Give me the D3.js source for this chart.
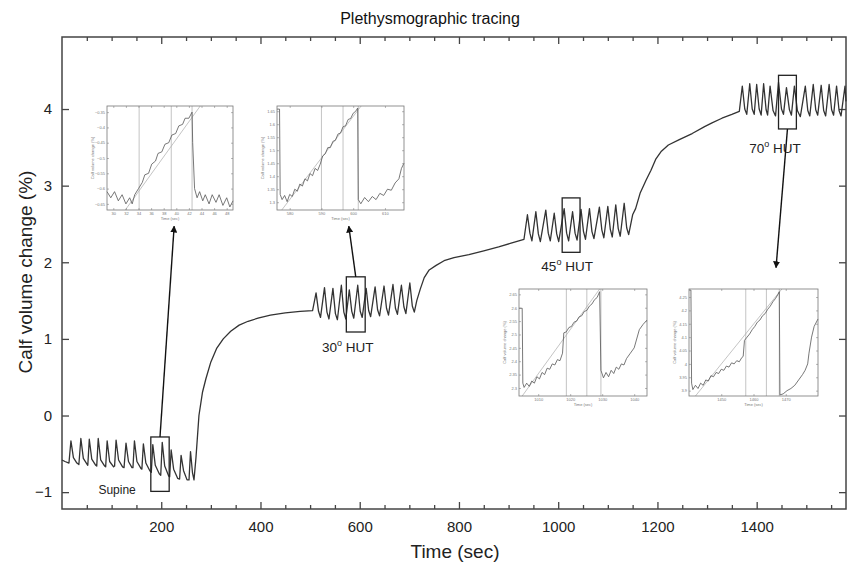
<!DOCTYPE html>
<html>
<head>
<meta charset="utf-8">
<script src="https://cdn.jsdelivr.net/npm/d3@7"></script>
<style>
  body { margin: 0; background: #fff; }
  text { font-family: "Liberation Sans", Arial, sans-serif; }
</style>
</head>
<body>
<div id="chart"></div>
<script>
// ---- main tracing (time in sec, calf volume change in %)
var supineTime  = [0,6,14,18,23,30,34,38,43,50,52,55,60,68,70,73,78,86,88,91,96,104,106,109,114,122,125,129,134,141,143,146,151,159,161,164,169,177,180,183,188,196,199,202,207,215,217,220,225,233,237,240,245,252,256,259,263,266];
var supineValue = [-0.58,-0.6,-0.62,-0.33,-0.55,-0.62,-0.64,-0.30,-0.56,-0.63,-0.65,-0.31,-0.57,-0.65,-0.66,-0.30,-0.58,-0.66,-0.67,-0.33,-0.6,-0.67,-0.66,-0.32,-0.58,-0.67,-0.68,-0.36,-0.6,-0.68,-0.68,-0.33,-0.6,-0.69,-0.7,-0.37,-0.62,-0.72,-0.74,-0.38,-0.65,-0.76,-0.78,-0.35,-0.66,-0.79,-0.8,-0.45,-0.7,-0.82,-0.83,-0.52,-0.72,-0.84,-0.84,-0.47,-0.75,-0.84];
var rise1Time   = [270,276,283,290,300,312,325,340,357,375,395,420,450,480,505];
var rise1Value  = [-0.55,0.0,0.3,0.48,0.7,0.88,1.0,1.1,1.18,1.23,1.27,1.31,1.34,1.36,1.37];
var tilt30Time  = [512,517,521,529,534,538,546,551,555,563,568,572,579,584,588,596,601,605,613,618,622,631,636,640,649,654,658,667,672,676,684,689,693,701,706,710,715];
var tilt30Value = [1.6,1.36,1.28,1.67,1.35,1.26,1.66,1.33,1.25,1.7,1.35,1.26,1.64,1.36,1.27,1.7,1.36,1.28,1.66,1.37,1.29,1.68,1.38,1.3,1.69,1.4,1.31,1.71,1.4,1.32,1.7,1.42,1.33,1.73,1.43,1.35,1.5];
var rise2Time   = [722,730,740,754,770,790,820,850,880,905,931];
var rise2Value  = [1.65,1.8,1.9,1.96,2.02,2.06,2.1,2.15,2.2,2.25,2.3];
var tilt45Time  = [938,943,947,955,960,964,975,980,984,992,997,1001,1012,1017,1021,1029,1034,1038,1046,1051,1055,1063,1068,1072,1083,1088,1092,1100,1105,1109,1116,1121,1125,1133,1138,1142,1150];
var tilt45Value = [2.62,2.38,2.28,2.66,2.37,2.27,2.68,2.38,2.28,2.64,2.37,2.27,2.7,2.38,2.28,2.66,2.38,2.29,2.69,2.4,2.3,2.7,2.4,2.31,2.72,2.42,2.32,2.73,2.43,2.33,2.75,2.44,2.34,2.77,2.45,2.36,2.62];
var rise3Time   = [1156,1165,1177,1187,1197,1208,1222,1244,1270,1295,1310,1330,1350,1365];
var rise3Value  = [2.7,2.9,3.07,3.2,3.35,3.45,3.53,3.6,3.68,3.77,3.82,3.88,3.93,3.97];
var tilt70Time  = [1371,1376,1380,1386,1391,1395,1400,1405,1409,1414,1419,1422,1427,1433,1438,1444,1450,1454,1460,1466,1470,1476,1482,1488,1498,1503,1507,1514,1519,1523,1530,1535,1539,1546,1551,1555,1561,1566,1570,1578,1580];
var tilt70Value = [4.3,4.0,3.93,4.33,4.0,3.93,4.32,4.0,3.92,4.33,3.99,3.92,4.3,3.98,3.91,4.35,4.0,3.93,4.28,3.99,3.92,4.3,3.98,3.9,4.3,3.98,3.91,4.32,3.99,3.92,4.31,3.98,3.91,4.32,3.99,3.92,4.3,3.98,3.91,4.3,4.1];

// zoom boxes on the tracing
var boxLabels = ["Supine", "30", "45", "70"];
var boxStart  = [179, 573, 1008, 1444];
var boxEnd    = [216, 611, 1044, 1480];
var boxTop    = [-0.28, 1.81, 2.84, 4.44];
var boxBottom = [-0.99, 1.09, 2.13, 3.74];

// axes
var xTickValues  = [200, 400, 600, 800, 1000, 1200, 1400];
var xMinorTicks  = [50,100,150,250,300,350,450,500,550,650,700,750,850,900,950,1050,1100,1150,1250,1300,1350,1450,1500,1550];
var yTickValues  = [-1, 0, 1, 2, 3, 4];

// ---- insets (zoomed views)
var inset1Time  = [29.0,29.6,30.2,30.8,31.4,32.0,32.6,33.0,33.4,34.0,34.6,35.0,35.6,36.1,36.7,37.1,37.7,38.2,38.8,39.3,39.9,40.4,41.0,41.4,42.0,42.5,42.6,42.9,43.3,43.7,44.2,44.6,45.2,45.7,46.3,46.8,47.4,48.0,48.5,49.0];
var inset1Value = [-0.61,-0.63,-0.61,-0.64,-0.62,-0.65,-0.63,-0.65,-0.62,-0.60,-0.58,-0.555,-0.55,-0.52,-0.51,-0.485,-0.48,-0.455,-0.45,-0.425,-0.42,-0.395,-0.39,-0.37,-0.37,-0.35,-0.45,-0.60,-0.63,-0.61,-0.64,-0.62,-0.65,-0.62,-0.645,-0.62,-0.655,-0.63,-0.66,-0.64];
var inset1Marks = [34.1, 39.2, 42.5];
var inset1Fit   = [31.9, -0.67, 43.8, -0.33];
var inset1XTicks = [30,32,34,36,38,40,42,44,46,48];
var inset1YTicks = [-0.65,-0.6,-0.55,-0.5,-0.45,-0.4,-0.35];

var inset2Time  = [576,576.8,577,577.6,578.4,579.2,580,580.8,581.6,582.4,583.2,584,584.8,585.6,586.4,587.2,588,588.8,589.6,590.4,591.2,592,592.8,593.6,594.4,595.2,596,596.8,597.6,598.4,599.2,600,600.8,601.4,601.6,602.4,603.6,604.8,606,607.2,608.4,609.6,610.8,612,613.2,614.4,615.2,616];
var inset2Value = [1.658,1.658,1.33,1.31,1.326,1.302,1.33,1.322,1.35,1.342,1.37,1.362,1.39,1.382,1.41,1.402,1.43,1.422,1.446,1.478,1.486,1.51,1.51,1.534,1.538,1.562,1.566,1.59,1.594,1.618,1.622,1.642,1.65,1.662,1.31,1.294,1.318,1.302,1.322,1.31,1.334,1.326,1.35,1.346,1.374,1.39,1.43,1.45];
var inset2Marks = [590, 596.8, 601.6];
var inset2Fit   = [577.5, 1.27, 602.5, 1.67];
var inset2XTicks = [580, 590, 600, 610];
var inset2YTicks = [1.3,1.35,1.4,1.45,1.5,1.55,1.6,1.65];

var inset3Time  = [1004,1005,1005.2,1005.6,1006.4,1007.2,1008,1008.8,1009.6,1010.4,1011.2,1012,1012.8,1013.6,1014.4,1015.2,1016,1016.8,1017.6,1018,1018.8,1019.6,1020.4,1021.2,1022,1022.8,1023.6,1024.4,1025.2,1026,1026.8,1027.6,1028.4,1029.2,1029.6,1030.4,1031.2,1032,1032.8,1033.6,1034.4,1035.2,1036,1036.8,1037.6,1038.8,1040,1041.6,1042.8,1044];
var inset3Value = [2.598,2.598,2.318,2.302,2.318,2.306,2.326,2.318,2.342,2.334,2.358,2.35,2.374,2.37,2.39,2.386,2.406,2.402,2.43,2.506,2.51,2.526,2.53,2.546,2.55,2.566,2.57,2.586,2.59,2.606,2.614,2.63,2.638,2.66,2.366,2.338,2.358,2.342,2.366,2.354,2.378,2.37,2.39,2.386,2.41,2.43,2.45,2.518,2.538,2.554];
var inset3Marks = [1018.8, 1025.2, 1029.6];
var inset3Fit   = [1005, 2.27, 1029.2, 2.67];
var inset3XTicks = [1010, 1020, 1030, 1040];
var inset3YTicks = [2.3,2.35,2.4,2.45,2.5,2.55,2.6,2.65];

var inset4Time  = [1440,1440.6,1440.8,1441.2,1442,1442.8,1443.6,1444.4,1445.2,1446,1446.8,1447.6,1448.4,1449.2,1450,1450.8,1451.6,1452.4,1453.2,1454,1454.8,1455.6,1456.4,1456.8,1457.2,1458,1458.8,1459.6,1460.4,1461.2,1462,1462.8,1463.6,1464.4,1465.2,1466,1466.8,1467.6,1468,1468.2,1469.2,1470.4,1471.6,1472.8,1474,1475.2,1476,1476.8,1477.2,1478,1478.8,1480];
var inset4Value = [4.276,4.276,3.928,3.904,3.92,3.908,3.928,3.92,3.94,3.936,3.956,3.952,3.968,3.964,3.98,3.976,3.992,3.988,4.004,4.0,4.012,4.008,4.024,4.028,4.088,4.1,4.112,4.128,4.14,4.156,4.164,4.18,4.188,4.204,4.216,4.232,4.244,4.26,4.27,3.884,3.888,3.9,3.908,3.92,3.94,3.96,3.976,4.0,4.04,4.1,4.14,4.168];
var inset4Marks = [1457.6, 1464, 1468];
var inset4Fit   = [1442, 3.88, 1468.8, 4.28];
var inset4XTicks = [1450, 1460, 1470];
var inset4YTicks = [3.9,3.95,4,4.05,4.1,4.15,4.2,4.25];


var margin = {top: 37, right: 3, bottom: 55, left: 62},
    width = 849 - margin.left - margin.right,
    height = 564 - margin.top - margin.bottom;

var svg = d3.select("#chart").append("svg")
    .attr("width", width + margin.left + margin.right)
    .attr("height", height + margin.top + margin.bottom);

svg.append("defs").append("marker")
    .attr("id", "arrow")
    .attr("viewBox", "0 0 10 10")
    .attr("refX", 9).attr("refY", 5)
    .attr("markerWidth", 7).attr("markerHeight", 7)
    .attr("markerUnits", "userSpaceOnUse")
    .attr("orient", "auto")
    .append("path").attr("d", "M0,0L10,5L0,10z").attr("fill", "#111");

var g = svg.append("g").attr("transform", "translate(" + margin.left + "," + margin.top + ")");

// scales
var xScale = d3.scaleLinear().domain([0, 1580]).range([0, width]);
var yScale = d3.scaleLinear().domain([-1.22, 4.94]).range([height, 0]);
var plain = d3.format("d");

// axes: ticks inward on all four sides
function styleAxis(sel) {
    sel.select(".domain").remove();
    sel.selectAll(".tick line").attr("stroke", "#444").attr("stroke-width", 1.3);
    sel.selectAll(".tick text").attr("fill", "#222").style("font-size", "15px");
}
g.append("g").attr("transform", "translate(0," + height + ")")
    .call(d3.axisBottom(xScale).tickValues(xMinorTicks).tickSize(-4).tickFormat(""))
    .call(styleAxis);
g.append("g").attr("transform", "translate(0," + height + ")")
    .call(d3.axisBottom(xScale).tickValues(xTickValues).tickSize(-7).tickPadding(12).tickFormat(plain))
    .call(styleAxis);
g.append("g")
    .call(d3.axisTop(xScale).tickValues(xMinorTicks).tickSize(-4).tickFormat(""))
    .call(styleAxis);
g.append("g")
    .call(d3.axisTop(xScale).tickValues(xTickValues).tickSize(-7).tickFormat(""))
    .call(styleAxis);
g.append("g")
    .call(d3.axisLeft(yScale).tickValues(yTickValues).tickSize(-7).tickPadding(10).tickFormat(plain))
    .call(styleAxis);
g.append("g").attr("transform", "translate(" + width + ",0)")
    .call(d3.axisRight(yScale).tickValues(yTickValues).tickSize(-7).tickFormat(""))
    .call(styleAxis);

g.append("rect")
    .attr("width", width).attr("height", height)
    .attr("fill", "none").attr("stroke", "#444").attr("stroke-width", 1.5);

// titles
svg.append("text")
    .attr("x", 430).attr("y", 24)
    .attr("text-anchor", "middle")
    .style("font-size", "16px").attr("fill", "#111")
    .text("Plethysmographic tracing");
svg.append("text")
    .attr("x", 455).attr("y", 558)
    .attr("text-anchor", "middle")
    .style("font-size", "19px").attr("fill", "#222")
    .text("Time (sec)");
svg.append("text")
    .attr("transform", "translate(32,272) rotate(-90)")
    .attr("text-anchor", "middle")
    .style("font-size", "19px").attr("fill", "#222")
    .text("Calf volume change (%)");

// the tracing
var traceTime = [].concat(supineTime, rise1Time, tilt30Time, rise2Time, tilt45Time, rise3Time, tilt70Time);
var traceValue = [].concat(supineValue, rise1Value, tilt30Value, rise2Value, tilt45Value, rise3Value, tilt70Value);
var tracedata = d3.zip(traceTime, traceValue);

var line = d3.line()
    .x(function(d) { return xScale(d[0]); })
    .y(function(d) { return yScale(d[1]); });

g.append("path")
    .datum(tracedata)
    .attr("fill", "none")
    .attr("stroke", "#333")
    .attr("stroke-width", 1.3)
    .attr("stroke-linejoin", "round")
    .attr("d", line);

// zoom boxes
for (let i = 0; i < boxStart.length; i++) {
    g.append("rect")
        .attr("x", xScale(boxStart[i]))
        .attr("y", yScale(boxTop[i]))
        .attr("width", xScale(boxEnd[i]) - xScale(boxStart[i]))
        .attr("height", yScale(boxBottom[i]) - yScale(boxTop[i]))
        .attr("fill", "none").attr("stroke", "#222").attr("stroke-width", 1.3);
}

// phase labels (anchor in data units)
g.append("text")
    .attr("x", xScale(111)).attr("y", yScale(-1.03))
    .attr("text-anchor", "middle")
    .style("font-size", "12px").attr("fill", "#222")
    .text(boxLabels[0]);

var hutPos = [[576, 0.83], [1018, 1.88], [1437, 3.43]];
for (let i = 1; i < boxLabels.length; i++) {
    var t = g.append("text")
        .attr("x", xScale(hutPos[i - 1][0])).attr("y", yScale(hutPos[i - 1][1]))
        .attr("text-anchor", "middle")
        .style("font-size", "13.5px").attr("fill", "#222");
    t.append("tspan").text(boxLabels[i]);
    t.append("tspan").attr("dy", -6).style("font-size", "9px").text("o");
    t.append("tspan").attr("dy", 6).text(" HUT");
}

// arrows from the boxes to the insets
var arrows = [
    [197.5, -0.28, 226, 2.47],
    [592, 1.81, 578, 2.47],
    [1462, 3.74, 1439, 1.93]
];
arrows.forEach(function(a) {
    g.append("line")
        .attr("x1", xScale(a[0])).attr("y1", yScale(a[1]))
        .attr("x2", xScale(a[2])).attr("y2", yScale(a[3]))
        .attr("stroke", "#111").attr("stroke-width", 1.4)
        .attr("marker-end", "url(#arrow)");
});

// insets
var insets = [
    {x: 107, y: 106, w: 126, h: 104, time: inset1Time, value: inset1Value, marks: inset1Marks, fit: inset1Fit, xd: [29, 49], yd: [-0.67, -0.33], xt: inset1XTicks, yt: inset1YTicks},
    {x: 277, y: 106, w: 127, h: 104, time: inset2Time, value: inset2Value, marks: inset2Marks, fit: inset2Fit, xd: [576, 616], yd: [1.27, 1.67], xt: inset2XTicks, yt: inset2YTicks},
    {x: 519, y: 289, w: 128, h: 107, time: inset3Time, value: inset3Value, marks: inset3Marks, fit: inset3Fit, xd: [1004, 1044], yd: [2.27, 2.67], xt: inset3XTicks, yt: inset3YTicks},
    {x: 689, y: 289, w: 129, h: 107, time: inset4Time, value: inset4Value, marks: inset4Marks, fit: inset4Fit, xd: [1440, 1480], yd: [3.88, 4.28], xt: inset4XTicks, yt: inset4YTicks}
];

function styleInsetAxis(sel) {
    sel.select(".domain").remove();
    sel.selectAll(".tick line").attr("stroke", "#888").attr("stroke-width", 0.6);
    sel.selectAll(".tick text").attr("fill", "#777").style("font-size", "4px");
}

insets.forEach(function(ins) {
    var ig = svg.append("g").attr("transform", "translate(" + ins.x + "," + ins.y + ")");
    var ix = d3.scaleLinear().domain(ins.xd).range([0, ins.w]);
    var iy = d3.scaleLinear().domain(ins.yd).range([ins.h, 0]);

    ig.append("rect").attr("width", ins.w).attr("height", ins.h).attr("fill", "#fff");

    ig.selectAll(".mark").data(ins.marks).enter().append("line")
        .attr("x1", function(d) { return ix(d); }).attr("x2", function(d) { return ix(d); })
        .attr("y1", 0).attr("y2", ins.h)
        .attr("stroke", "#aaa").attr("stroke-width", 0.7);

    ig.append("line")
        .attr("x1", ix(ins.fit[0])).attr("y1", iy(ins.fit[1]))
        .attr("x2", ix(ins.fit[2])).attr("y2", iy(ins.fit[3]))
        .attr("stroke", "#aaa").attr("stroke-width", 0.7);

    ig.append("path")
        .datum(d3.zip(ins.time, ins.value))
        .attr("fill", "none").attr("stroke", "#555").attr("stroke-width", 0.8)
        .attr("d", d3.line().x(function(d) { return ix(d[0]); }).y(function(d) { return iy(d[1]); }));

    ig.append("g").attr("transform", "translate(0," + ins.h + ")")
        .call(d3.axisBottom(ix).tickValues(ins.xt).tickSize(-2).tickPadding(2).tickFormat(plain))
        .call(styleInsetAxis);
    ig.append("g")
        .call(d3.axisTop(ix).tickValues(ins.xt).tickSize(-2).tickFormat(""))
        .call(styleInsetAxis);
    ig.append("g")
        .call(d3.axisLeft(iy).tickValues(ins.yt).tickSize(-2).tickPadding(2).tickFormat(d3.format(".2~f")))
        .call(styleInsetAxis);
    ig.append("g").attr("transform", "translate(" + ins.w + ",0)")
        .call(d3.axisRight(iy).tickValues(ins.yt).tickSize(-2).tickFormat(""))
        .call(styleInsetAxis);

    ig.append("rect").attr("width", ins.w).attr("height", ins.h)
        .attr("fill", "none").attr("stroke", "#777").attr("stroke-width", 0.8);

    ig.append("text")
        .attr("x", ins.w / 2).attr("y", ins.h + 10)
        .attr("text-anchor", "middle")
        .style("font-size", "4px").attr("fill", "#777")
        .text("Time (sec)");
    ig.append("text")
        .attr("transform", "translate(-13," + (ins.h / 2) + ") rotate(-90)")
        .attr("text-anchor", "middle")
        .style("font-size", "4px").attr("fill", "#777")
        .text("Calf volume change (%)");
});
</script>
</body>
</html>
